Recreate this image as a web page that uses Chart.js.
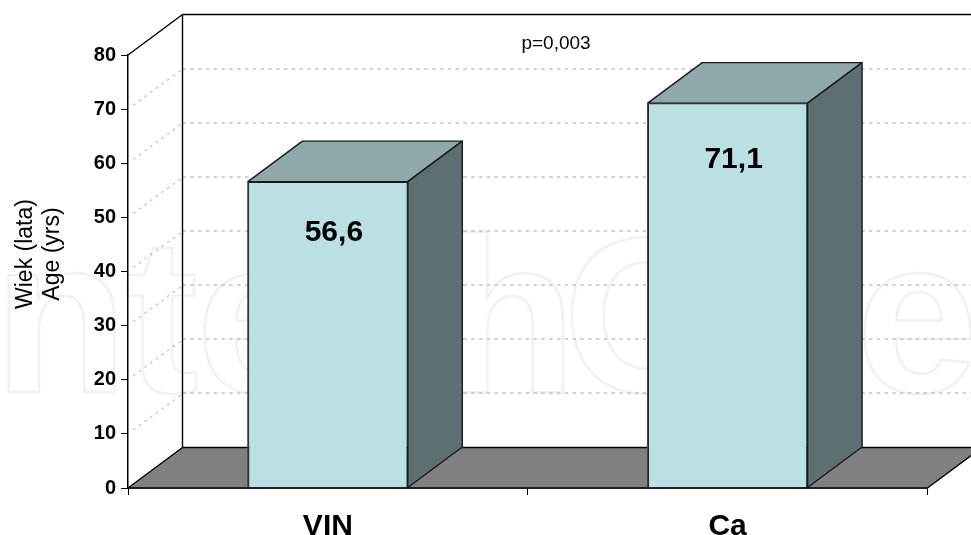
<!DOCTYPE html>
<html>
<head>
<meta charset="utf-8">
<style>
  html, body { margin: 0; padding: 0; background: #fff; overflow: hidden; }
  canvas { display: block; }
</style>
<script src="https://cdn.jsdelivr.net/npm/chart.js@4/dist/chart.umd.min.js"></script>
</head>
<body>
<canvas id="chart" width="971" height="535" style="width:971px;height:535px"></canvas>
<script>
const categories = ["VIN", "Ca"];
const values = [56.6, 71.1];
const yMax = 80;
const yStep = 10;
const yTitleLines = ["Wiek (lata)", "Age (yrs)"];
const pValueText = "p=0,003";
const watermarkLetters = ["n", "t", "e", "h", "O", "e"];

const FONT = '"Liberation Sans", Arial, sans-serif';
const DEPTH_X = 54.5;
const DEPTH_Y = -40.5;

function poly(ctx, pts, fill, stroke, lw) {
  ctx.beginPath();
  pts.forEach((p, i) => (i ? ctx.lineTo(p[0], p[1]) : ctx.moveTo(p[0], p[1])));
  ctx.closePath();
  if (fill) {
    ctx.fillStyle = fill;
    ctx.fill();
  }
  if (stroke) {
    ctx.strokeStyle = stroke;
    ctx.lineWidth = lw || 1;
    ctx.stroke();
  }
}

function line(ctx, x1, y1, x2, y2) {
  ctx.beginPath();
  ctx.moveTo(x1, y1);
  ctx.lineTo(x2, y2);
  ctx.stroke();
}

const scene3d = {
  id: "scene3d",
  beforeDraw(chart) {
    // pale outlined lettering behind everything
    const ctx = chart.ctx;
    const pos = [-6.5, 125, 196, 442, 563, 856];
    ctx.save();
    ctx.font = "bold 220px " + FONT;
    ctx.strokeStyle = "#f0f1f1";
    ctx.lineWidth = 2.5;
    ctx.lineJoin = "round";
    ctx.textBaseline = "alphabetic";
    watermarkLetters.forEach((ch, i) => ctx.strokeText(ch, pos[i], 392));
    ctx.restore();
  },
  beforeDatasetsDraw(chart) {
    const ctx = chart.ctx;
    const a = chart.chartArea;
    const y = chart.scales.y;
    const bx = a.left + DEPTH_X;
    ctx.save();
    // floor
    poly(ctx, [
      [a.left, a.bottom],
      [bx, a.bottom + DEPTH_Y],
      [a.right + DEPTH_X, a.bottom + DEPTH_Y],
      [a.right, a.bottom],
    ], "#808080", null);
    // grid on back wall and left wall
    ctx.strokeStyle = "#c2c2c2";
    for (let v = yStep; v < yMax; v += yStep) {
      const py = y.getPixelForValue(v);
      ctx.lineWidth = 1.6;
      ctx.setLineDash([3.5, 4.3]);
      line(ctx, bx, Math.round(py + DEPTH_Y), chart.width, Math.round(py + DEPTH_Y));
      ctx.lineWidth = 1.4;
      ctx.setLineDash([2.5, 4.5]);
      line(ctx, bx - 2, py + DEPTH_Y + 2, a.left + 4, py - 3);
    }
    ctx.setLineDash([]);
    // wall outline
    ctx.strokeStyle = "#000";
    ctx.lineWidth = 1.4;
    line(ctx, bx, a.top + DEPTH_Y, bx, a.bottom + DEPTH_Y);
    line(ctx, bx, a.top + DEPTH_Y, chart.width, a.top + DEPTH_Y);
    line(ctx, bx, a.bottom + DEPTH_Y, chart.width, a.bottom + DEPTH_Y);
    line(ctx, a.left, a.top, bx, a.top + DEPTH_Y);
    line(ctx, a.left, a.bottom, bx, a.bottom + DEPTH_Y);
    line(ctx, a.right, a.bottom, a.right + DEPTH_X, a.bottom + DEPTH_Y);
    ctx.restore();
  },
  afterDatasetsDraw(chart) {
    const ctx = chart.ctx;
    const a = chart.chartArea;
    const meta = chart.getDatasetMeta(0);
    const labelDrop = [51, 57];
    ctx.save();
    ctx.lineJoin = "round";
    meta.data.forEach((bar, i) => {
      const half = bar.width / 2;
      const l = bar.x - half;
      const r = bar.x + half;
      const t = bar.y;
      const b = bar.base;
      poly(ctx, [[l, t], [l + DEPTH_X, t + DEPTH_Y], [r + DEPTH_X, t + DEPTH_Y], [r, t]], "#8fa8ab", "#1a1a1a", 1.4);
      poly(ctx, [[r, t], [r + DEPTH_X, t + DEPTH_Y], [r + DEPTH_X, b + DEPTH_Y], [r, b]], "#5e6f72", "#1a1a1a", 1.4);
      ctx.strokeStyle = "#444";
      ctx.lineWidth = 1.4;
      line(ctx, l, t, l, b);
      ctx.fillStyle = "#000";
      ctx.font = "bold 30px " + FONT;
      ctx.textAlign = "center";
      ctx.textBaseline = "middle";
      ctx.fillText(values[i].toFixed(1).replace(".", ","), bar.x + 6, t + labelDrop[i]);
    });
    ctx.strokeStyle = "#000";
    ctx.lineWidth = 1.5;
    line(ctx, a.left, a.bottom, a.right, a.bottom);

    ctx.fillStyle = "#000";
    ctx.font = "19px " + FONT;
    ctx.textAlign = "center";
    ctx.textBaseline = "middle";
    ctx.fillText(pValueText, 556, 44);

    ctx.font = "23px " + FONT;
    ctx.translate(39, 254);
    ctx.rotate(-Math.PI / 2);
    ctx.fillText(yTitleLines[0], 0, -13);
    ctx.fillText(yTitleLines[1], 0, 14);
    ctx.restore();
  },
};

new Chart(document.getElementById("chart").getContext("2d"), {
  type: "bar",
  data: {
    labels: categories,
    datasets: [
      {
        data: values,
        backgroundColor: "#bae0e3",
        borderColor: "#1a1a1a",
        borderWidth: 1.4,
        categoryPercentage: 0.4,
        barPercentage: 1,
      },
    ],
  },
  options: {
    responsive: false,
    animation: false,
    devicePixelRatio: 1,
    layout: { padding: { top: 55, right: 43.5, left: 0, bottom: 0 } },
    plugins: { legend: { display: false }, tooltip: { enabled: false } },
    scales: {
      x: {
        afterFit(scale) {
          scale.height = 47;
        },
        grid: { drawOnChartArea: false, color: "#000", tickLength: 7 },
        border: { color: "#000", width: 1.5 },
        ticks: { color: "#000", font: { family: FONT, size: 30, weight: "bold" }, padding: 14 },
      },
      y: {
        min: 0,
        max: yMax,
        afterFit(scale) {
          scale.width = 128;
        },
        grid: { drawOnChartArea: false, color: "#000", tickLength: 7 },
        border: { color: "#000", width: 1.5 },
        ticks: { stepSize: yStep, color: "#000", font: { family: FONT, size: 20, weight: "bold" }, padding: 5 },
      },
    },
  },
  plugins: [scene3d],
});
</script>
</body>
</html>
